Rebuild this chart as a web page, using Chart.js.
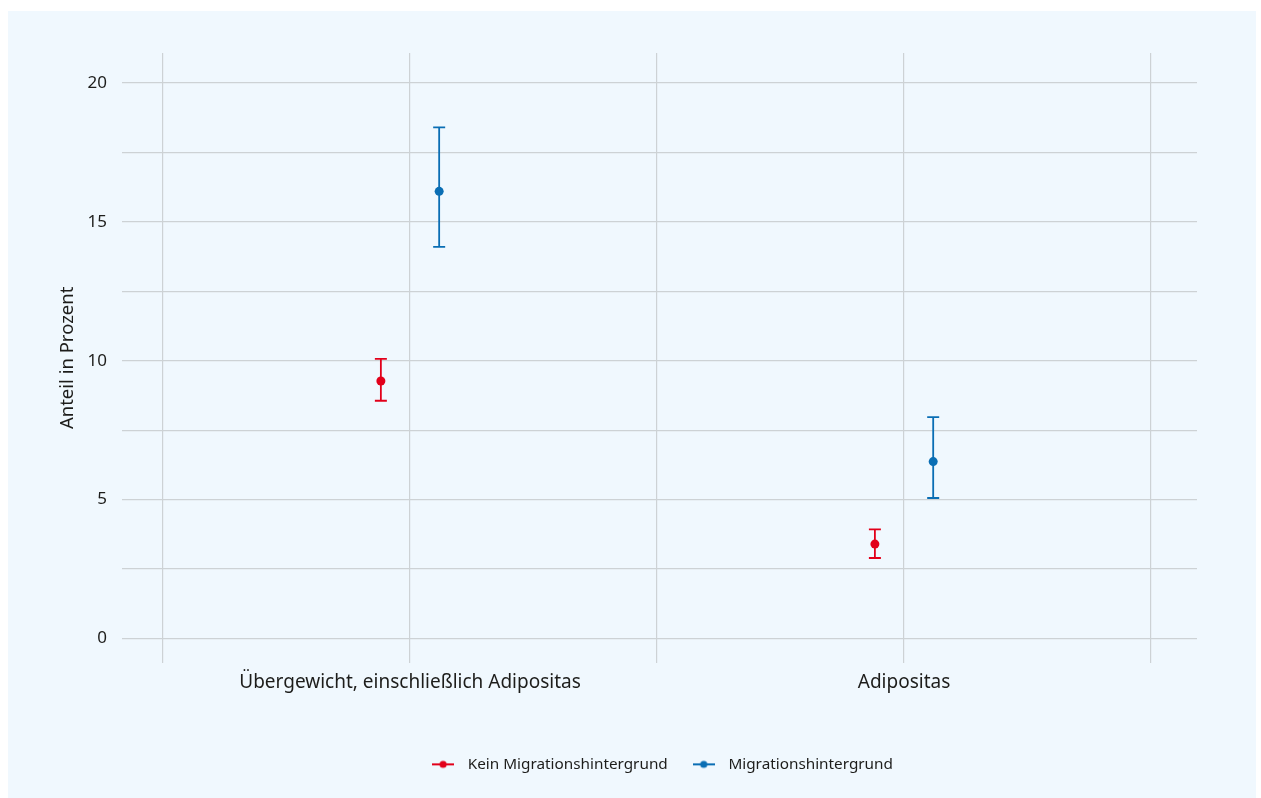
<!DOCTYPE html>
<html>
<head>
<meta charset="utf-8">
<script src="https://cdn.jsdelivr.net/npm/chart.js@4/dist/chart.umd.min.js"></script>
<style>
  html, body { margin: 0; padding: 0; background: #ffffff; }
  #panel { position: absolute; left: 8px; top: 11px; width: 1248px; height: 787px; background: #f0f8fe; }
</style>
</head>
<body>
<div id="panel"><canvas id="chart" width="1248" height="787"></canvas></div>
<script>
// categories on the x axis
var categories = ['Übergewicht, einschließlich Adipositas', 'Adipositas'];

// Kein Migrationshintergrund: estimate, lower, upper
var keinWert  = [9.27, 3.40];
var keinUnten = [8.56, 2.90];
var keinOben  = [10.07, 3.93];

// Migrationshintergrund: estimate, lower, upper
var migWert  = [16.10, 6.37];
var migUnten = [14.10, 5.06];
var migOben  = [18.40, 7.97];

var yTicks = [0, 2.5, 5, 7.5, 10, 12.5, 15, 17.5, 20];
var xTicks = [0.5, 1, 1.5, 2, 2.5];

var rot = '#e2001a';
var blau = '#0a6eb4';
var gridFarbe = '#cdd2d5';
var textFarbe = '#1d1d1b';
var dodge = 0.059;

function punkte(werte, unten, oben, offset) {
    return werte.map(function (v, i) {
        return { x: i + 1 + offset, y: v, lo: unten[i], hi: oben[i] };
    });
}

function legendMarker(farbe) {
    var c = document.createElement('canvas');
    c.width = 22; c.height = 10;
    var g = c.getContext('2d');
    g.strokeStyle = farbe; g.lineWidth = 2;
    g.beginPath(); g.moveTo(0, 5); g.lineTo(22, 5); g.stroke();
    g.fillStyle = farbe;
    g.beginPath(); g.arc(11, 5, 3.6, 0, Math.PI * 2); g.fill();
    return c;
}

var fehlerBalken = {
    id: 'fehlerBalken',
    beforeDatasetsDraw: function (chart) {
        var ctx = chart.ctx;
        var y = chart.scales.y;
        chart.data.datasets.forEach(function (ds, di) {
            var meta = chart.getDatasetMeta(di);
            ctx.save();
            ctx.strokeStyle = ds.borderColor;
            ctx.lineWidth = 1.8;
            meta.data.forEach(function (pt, i) {
                var d = ds.data[i];
                var px = pt.x;
                var yLo = y.getPixelForValue(d.lo);
                var yHi = y.getPixelForValue(d.hi);
                ctx.beginPath();
                ctx.moveTo(px, yLo); ctx.lineTo(px, yHi);
                ctx.moveTo(px - 6, yLo); ctx.lineTo(px + 6, yLo);
                ctx.moveTo(px - 6, yHi); ctx.lineTo(px + 6, yHi);
                ctx.stroke();
            });
            ctx.restore();
        });
    }
};

Chart.defaults.font.family = '"Noto Sans", "Open Sans", sans-serif';
Chart.defaults.color = textFarbe;

new Chart(document.getElementById('chart'), {
    type: 'scatter',
    data: {
        datasets: [
            {
                label: 'Kein Migrationshintergrund',
                data: punkte(keinWert, keinUnten, keinOben, -dodge),
                borderColor: rot,
                backgroundColor: rot,
                pointRadius: 4.5,
                pointHoverRadius: 4.5,
                pointBorderWidth: 0
            },
            {
                label: 'Migrationshintergrund',
                data: punkte(migWert, migUnten, migOben, dodge),
                borderColor: blau,
                backgroundColor: blau,
                pointRadius: 4.5,
                pointHoverRadius: 4.5,
                pointBorderWidth: 0
            }
        ]
    },
    options: {
        responsive: false,
        animation: false,
        layout: { padding: { top: 42, left: 49, right: 59, bottom: 16 } },
        plugins: {
            tooltip: { enabled: false },
            legend: {
                position: 'bottom',
                fullSize: false,
                labels: {
                    usePointStyle: true,
                    pointStyleWidth: 34,
                    font: { size: 15.3 },
                    padding: 19,
                    generateLabels: function (chart) {
                        return chart.data.datasets.map(function (ds, i) {
                            return {
                                text: ds.label,
                                pointStyle: legendMarker(ds.borderColor),
                                fillStyle: ds.borderColor,
                                strokeStyle: ds.borderColor,
                                lineWidth: 0,
                                hidden: false,
                                datasetIndex: i,
                                fontColor: textFarbe
                            };
                        });
                    }
                }
            }
        },
        scales: {
            x: {
                type: 'linear',
                min: 0.417,
                max: 2.593,
                afterBuildTicks: function (axis) {
                    axis.ticks = xTicks.map(function (v) { return { value: v }; });
                },
                afterFit: function (axis) { axis.height = 75; },
                border: { display: false },
                grid: { color: gridFarbe, lineWidth: 1.2, drawTicks: false },
                ticks: {
                    autoSkip: false,
                    maxRotation: 0,
                    padding: 8,
                    font: { size: 19 },
                    callback: function (v) {
                        return (v === 1 || v === 2) ? categories[v - 1] : '';
                    }
                }
            },
            y: {
                min: -0.87,
                max: 21.08,
                afterBuildTicks: function (axis) {
                    axis.ticks = yTicks.map(function (v) { return { value: v }; });
                },
                afterFit: function (axis) { axis.width = 65; },
                border: { display: false },
                grid: { color: gridFarbe, lineWidth: 1.2, drawTicks: false },
                title: {
                    display: true,
                    text: 'Anteil in Prozent',
                    font: { size: 18.5 },
                    padding: { top: 0, bottom: 0 }
                },
                ticks: {
                    padding: 15,
                    font: { size: 17 },
                    callback: function (v) { return v % 5 === 0 ? String(v) : ''; }
                }
            }
        }
    },
    plugins: [fehlerBalken]
});
</script>
</body>
</html>
